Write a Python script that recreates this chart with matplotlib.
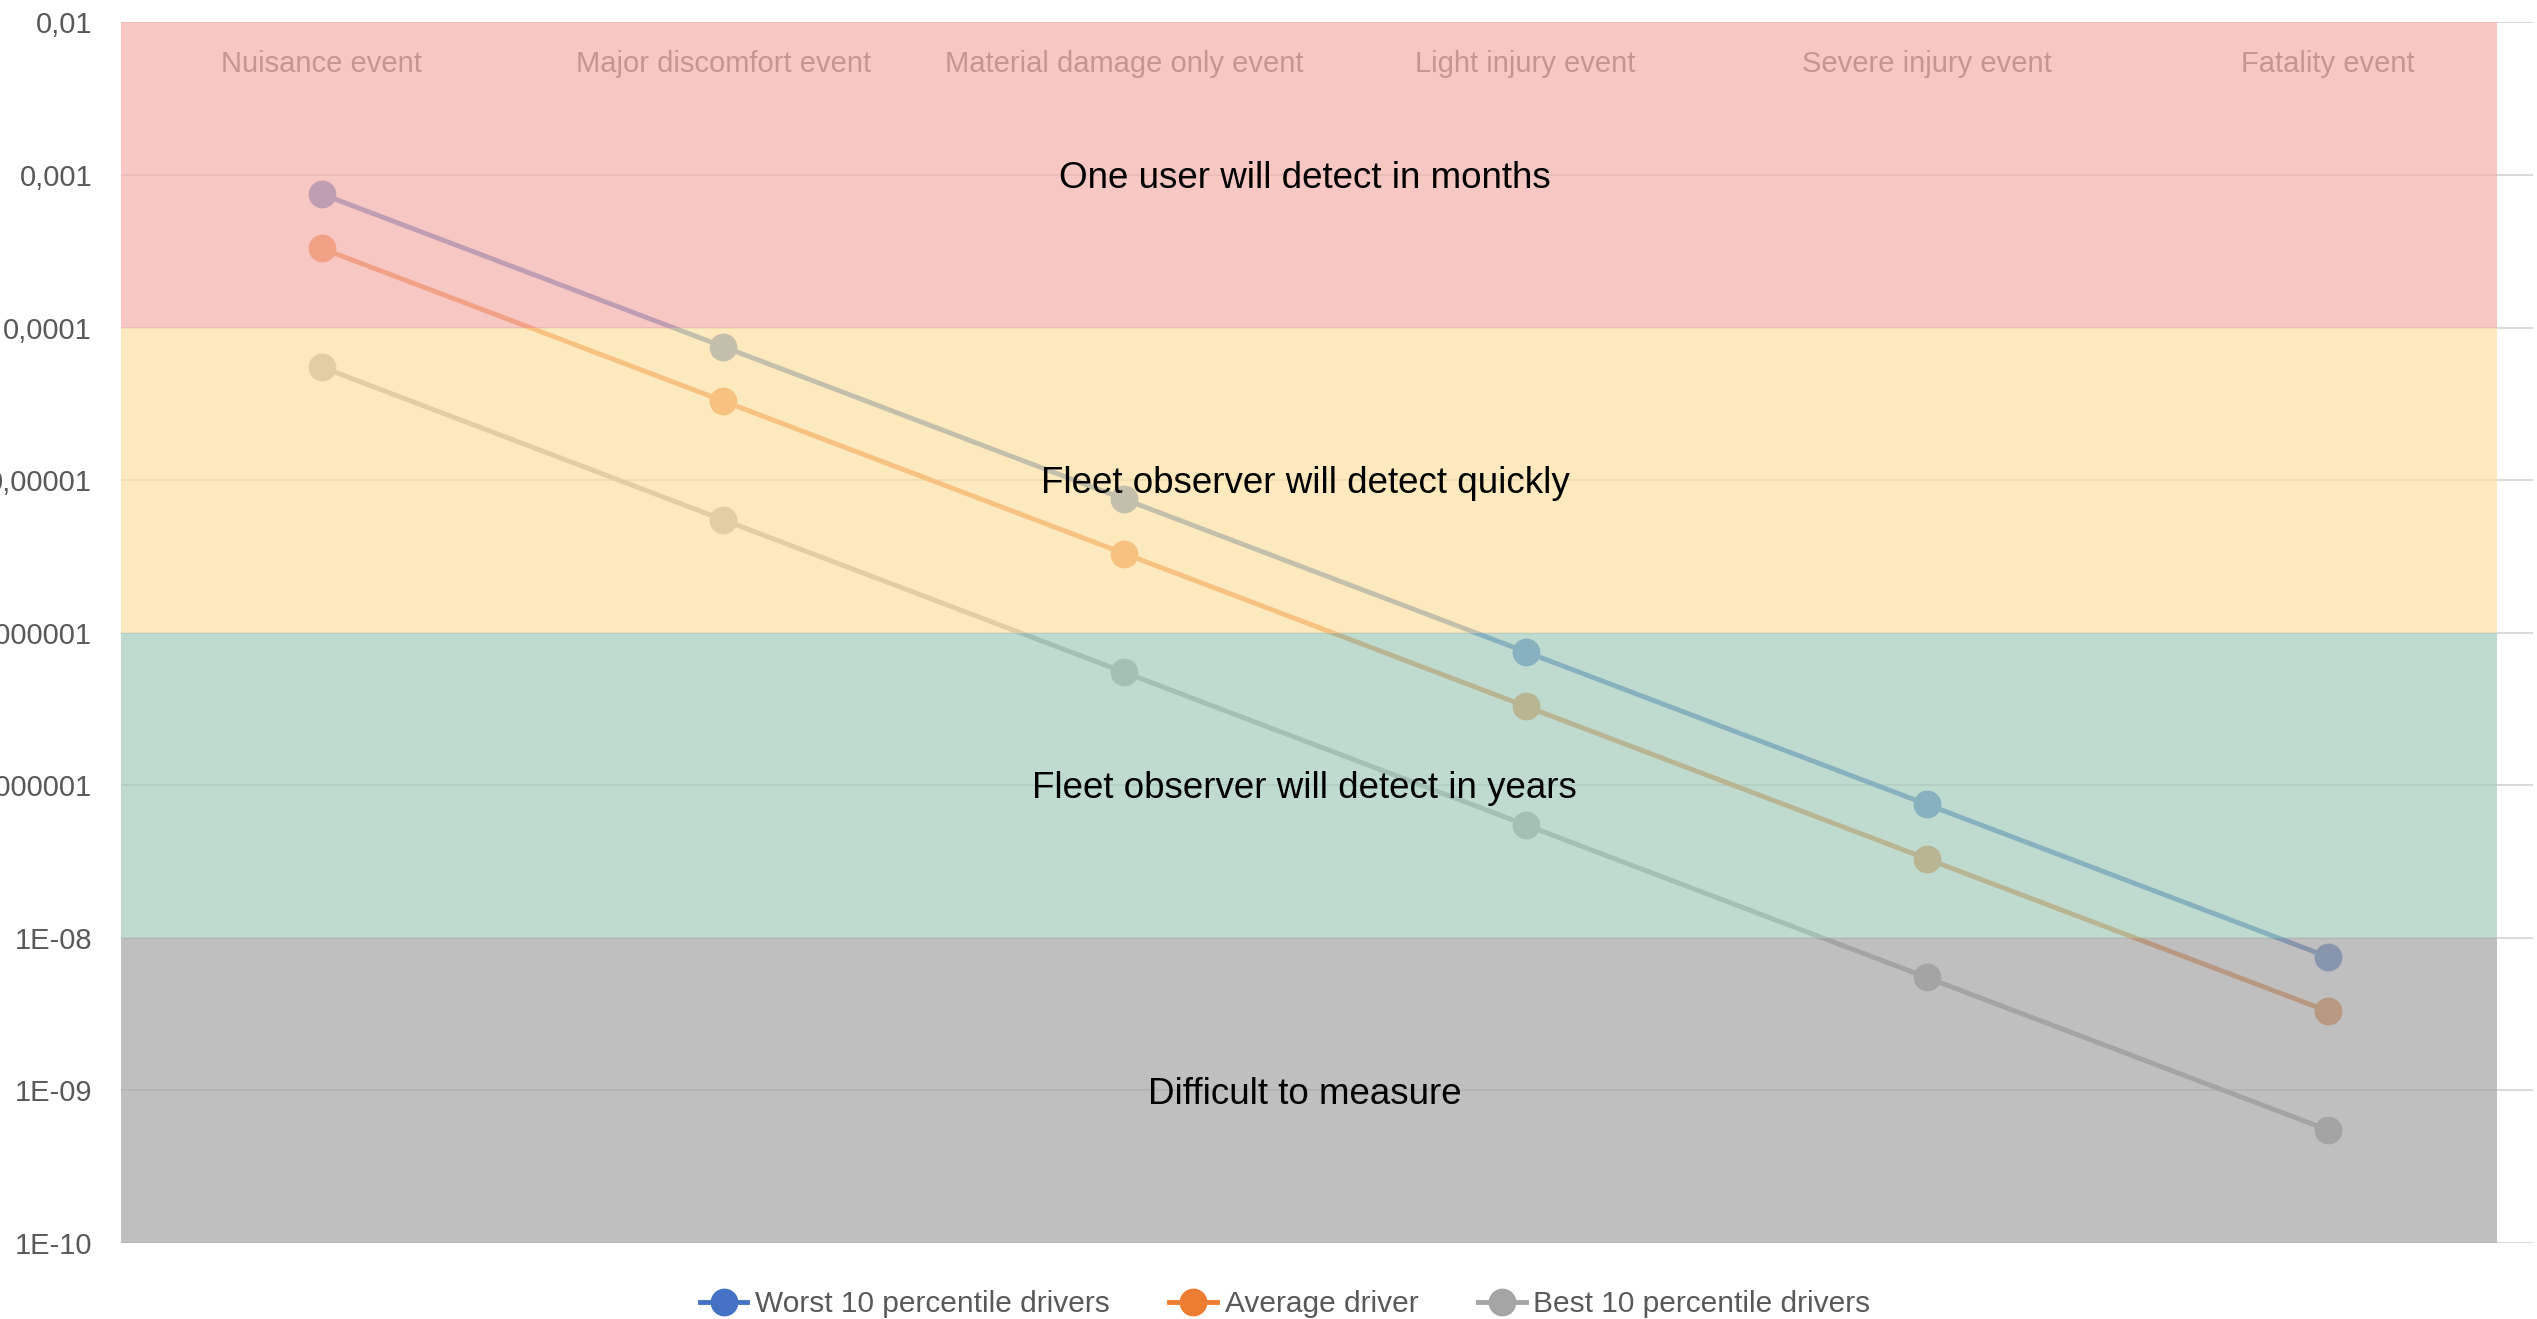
import matplotlib
matplotlib.use("Agg")
import matplotlib.pyplot as plt
from matplotlib.ticker import FixedLocator, FixedFormatter
from matplotlib.lines import Line2D

plt.rcParams['font.family'] = ['Liberation Sans', 'DejaVu Sans']

# categories along the x axis
events = ["Nuisance event", "Major discomfort event", "Material damage only event",
          "Light injury event", "Severe injury event", "Fatality event"]

# event probability per driver group
worst = [7.5e-4, 7.5e-5, 7.5e-6, 7.5e-7, 7.5e-8, 7.5e-9]
average = [3.3e-4, 3.3e-5, 3.3e-6, 3.3e-7, 3.3e-8, 3.3e-9]
best = [5.5e-5, 5.5e-6, 5.5e-7, 5.5e-8, 5.5e-9, 5.5e-10]
series_names = ["Worst 10 percentile drivers", "Average driver", "Best 10 percentile drivers"]

# detection zones: (low, high, label)
zone_low = [1e-4, 1e-6, 1e-8, 1e-10]
zone_high = [1e-2, 1e-4, 1e-6, 1e-8]
zone_labels = ["One user will detect in months", "Fleet observer will detect quickly",
               "Fleet observer will detect in years", "Difficult to measure"]
zone_label_y = [1e-3, 1e-5, 1e-7, 1e-9]

ytick_vals = [1e-2, 1e-3, 1e-4, 1e-5, 1e-6, 1e-7, 1e-8, 1e-9, 1e-10]
ytick_labels = ["0,01", "0,001", "0,0001", "0,00001", "0,000001", "0,0000001",
                "1E-08", "1E-09", "1E-10"]

line_colors = ["#4472C4", "#ED7D31", "#A5A5A5"]
zone_colors = ["#F5B0AB", "#FCE0A2", "#A4CCBC", "#A4A4A4"]
text_gray = "#595959"

fig = plt.figure(figsize=(25.37, 13.19), dpi=100)
ax = fig.add_axes([0.0478, 0.0576, 0.9505, 0.9254])

x = list(range(len(events)))
ax.set_yscale("log")
ax.set_ylim(1e-10, 1e-2)
ax.set_xlim(-0.5, 5.51)

# horizontal gridlines
for v in ytick_vals:
    ax.axhline(v, color="#D9D9D9", lw=1.4, zorder=1)

# category names at the top of the plot (sit under the zones)
for xi, name in zip(x, events):
    ax.text(xi, 0.9595, name, transform=ax.get_xaxis_transform(), ha="center", va="baseline",
            fontsize=21, color=text_gray, zorder=2)

for vals, col in zip([worst, average, best], line_colors):
    ax.plot(x, vals, color=col, lw=3.5, marker="o", markersize=19, zorder=3,
            solid_capstyle="round")

# translucent zone bands on top of the lines
for lo, hi, col in zip(zone_low, zone_high, zone_colors):
    ax.fill_between([-0.5, 5.42], lo, hi, color=col, alpha=0.7, lw=0, zorder=4)

for lab, yv in zip(zone_labels, zone_label_y):
    ax.annotate(lab, (2.45, yv), xytext=(0, -9.5), textcoords="offset points",
                ha="center", va="baseline", fontsize=26.5, color="black", zorder=5)

ax.yaxis.set_major_locator(FixedLocator(ytick_vals))
ax.yaxis.set_major_formatter(FixedFormatter(ytick_labels))
ax.yaxis.set_minor_locator(FixedLocator([]))
ax.tick_params(axis="y", length=0, pad=21, labelsize=21, labelcolor=text_gray)
ax.set_xticks([])
for s in ax.spines.values():
    s.set_visible(False)

handles = [Line2D([0], [0], color=c, lw=3.5, marker="o", markersize=19) for c in line_colors]
fig.legend(handles, series_names, loc="center", bbox_to_anchor=(0.5065, 0.0114), ncol=3,
           frameon=False, fontsize=21.5, labelcolor=text_gray, handlelength=1.6,
           handletextpad=0.25, columnspacing=2.0)

fig.savefig("out.png", dpi=100)
